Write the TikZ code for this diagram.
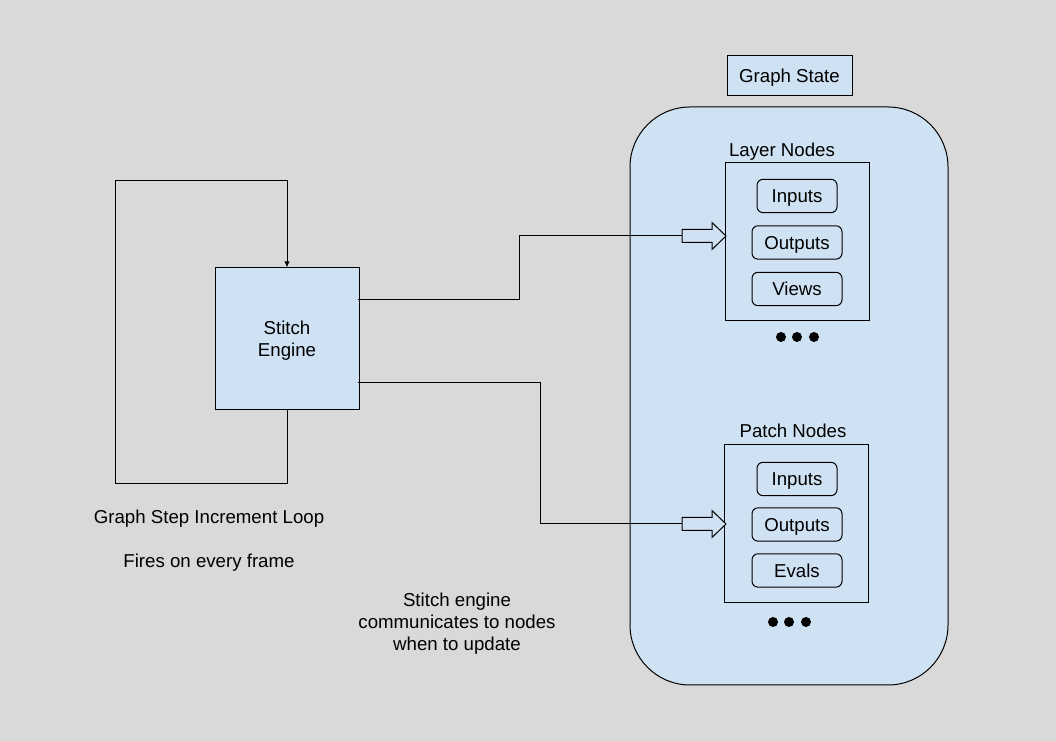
\documentclass[tikz,border=0pt]{standalone}
\usepackage{fontspec}
\setmainfont{Liberation Sans}
\usepackage{tikz}
\usetikzlibrary{arrows.meta}
\usetikzlibrary{calc}
\usetikzlibrary{positioning}
\definecolor{sheet-gray}{HTML}{D9D9D9}
\definecolor{sheet-blue}{HTML}{CFE2F3}

\begin{document}
\begin{tikzpicture}[x=0.75pt, y=0.75pt, line width=0.75pt,
    font=\fontsize{14}{16.5}\selectfont,
    every node/.style={text depth=0pt},
    box/.style={draw, fill=sheet-blue, inner sep=0pt},
    pill/.style={draw, fill=sheet-blue, rounded corners=4.5pt, inner sep=0pt, minimum height=25pt},
    dot/.style={circle, fill, inner sep=0pt, minimum size=7.5pt},
    caption/.style={align=center, inner sep=0pt}]

    % background
    \fill[sheet-gray] (0,0) rectangle (1056,741);
    \useasboundingbox (0,0) rectangle (1056,741);

    % graph state
    \node[box, rounded corners=45pt, minimum width=238.5pt, minimum height=433.5pt] (state) at (789,345) {};
    \node[box, minimum width=93.75pt, minimum height=30pt] (title) at (789.5,665) {Graph State};

    % layer nodes
    \node[caption] (ltitle) at (782,591) {Layer Nodes};
    \node[box, minimum width=108pt, minimum height=118.5pt] (layer) at (797,499) {};
    \node[pill, minimum width=60pt] (lin) at (797,545) {Inputs};
    \node[pill, minimum width=67.5pt] (lout) at (797,498.5) {Outputs};
    \node[pill, minimum width=67.5pt] (lview) at (797,452) {Views};
    \foreach \i/\x in {1/781,2/797,3/814}
        \node[dot] (ldot\i) at (\x,404) {};

    % patch nodes
    \node[caption] (ptitle) at (793,310) {Patch Nodes};
    \node[box, minimum width=108pt, minimum height=118.5pt] (patch) at (796,217) {};
    \node[pill, minimum width=60pt] (pin) at (797,262) {Inputs};
    \node[pill, minimum width=67.5pt] (pout) at (797,216.5) {Outputs};
    \node[pill, minimum width=67.5pt] (peval) at (797,170.5) {Evals};
    \foreach \i/\x in {1/773,2/789,3/806}
        \node[dot] (pdot\i) at (\x,119) {};

    % stitch engine
    \node[box, minimum width=108pt, minimum height=106.5pt, align=center] (engine) at (287,402) {Stitch\\Engine};

    % step loop
    \draw[-{Latex[length=4.5pt, width=4pt]}] (engine.south) -- ++(0,-73) -- ++(-172,0) -- ++(0,303) -| (engine.north);

    % block arrows
    \coordinate (ltail) at (682,505);
    \coordinate (ptail) at (682,217);
    \foreach \t in {ltail,ptail}
        \draw[fill=sheet-blue] (\t) ++(0,6.5) -- ++(30,0) -- ++(0,7) -- ++(14,-13.5) -- ++(-14,-13.5) -- ++(0,7) -- ++(-30,0) -- cycle;

    % engine to nodes
    \draw ($(engine.east)+(-2,39)$) -- ++(162,0) |- (ltail);
    \draw ($(engine.east)+(-2,-44)$) -- ++(183,0) |- (ptail);

    % captions
    \node[caption] (loop) at (209,224) {Graph Step Increment Loop};
    \node[caption] (fires) at (209,180) {Fires on every frame};
    \node[caption] (talk) at (457,119) {Stitch engine\\communicates to nodes\\when to update};

\end{tikzpicture}
\end{document}
